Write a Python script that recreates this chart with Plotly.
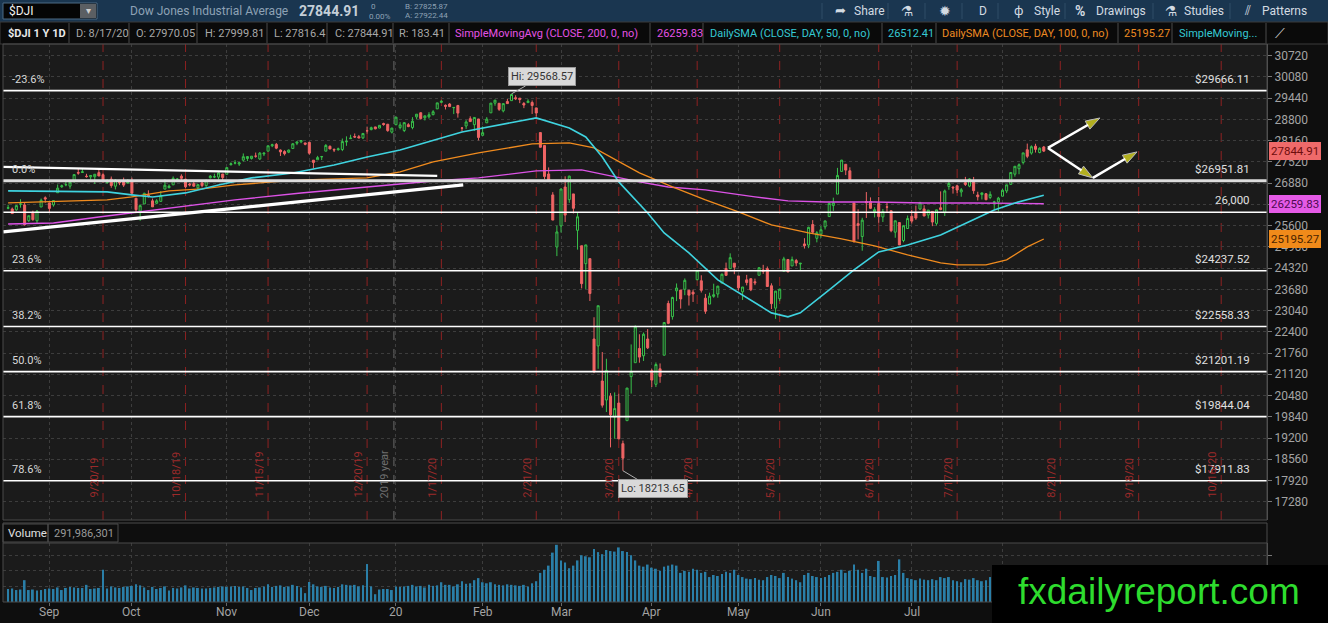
import pandas as pd
import plotly.graph_objects as go

W, H = 1328, 623

# ---- data ----
holidays = ["2019-09-02", "2019-11-28", "2019-12-25", "2020-01-01", "2020-01-20",
            "2020-02-17", "2020-04-10", "2020-05-25", "2020-07-03", "2020-09-07"]

opens = [
    26125, 26101, 26075, 26245, 26222, 25748, 26002, 25746, 26160, 26439,
    26284, 26225, 26590, 26770, 26828, 26790, 26959, 27197, 27200, 27090, 27070, 27071, 27196, 27134, 26893, 27000, 26787, 26962, 26920, 26877,
    26963, 26425, 26039, 26253, 26516, 26346, 26273, 26330, 26699, 26743, 26828, 26995, 27089, 26998, 26853, 26865, 26740, 26885, 26803, 27042, 27065, 27060, 27155,
    27147, 27435, 27482, 27456, 27572, 27621, 27621, 27693, 27606, 27759, 27843, 28005, 28047, 27877, 27830, 27812, 27922, 28082, 28124, 28091,
    28109, 27571, 27584, 27672, 27843, 27990, 27893, 27886, 27893, 28123, 28220, 28285, 28279, 28243, 28458, 28492, 28573, 28539, 28676, 28654, 28416,
    28639, 28553, 28465, 28639, 28556, 28877, 29000, 28847, 28878, 28943, 29118, 29313, 29226, 29264, 29153, 29217, 28542, 28601, 28820, 28640, 28813,
    28319, 28697, 28998, 29291, 29286, 29058, 29340, 29365, 29454, 29440, 29279, 29306, 29309, 29147, 28403, 28013, 27155, 26525, 24957,
    25591, 26763, 26384, 26555, 25458, 24992, 24453, 24604, 22184, 21974, 20917, 20345, 20460, 19830, 20253, 19029, 19722, 21050, 21469, 21898, 21678, 22184,
    21228, 20819, 21285, 21694, 23253, 22857, 23635, 23658, 23681, 23653, 23594, 23972, 23937, 23413, 23235, 23468, 23539, 23868, 24307, 24304, 24467,
    24084, 23605, 23965, 24000, 23909, 24104, 24261, 24303, 23787, 23113, 23397, 24224, 24579, 24384, 24546, 24444, 25048, 25015, 25632, 25217,
    25344, 25563, 25872, 26204, 26549, 27232, 27447, 27251, 26282, 25659, 25270, 26325, 26326, 26016, 26265, 25861, 26165, 26047, 25402, 25692, 25152, 25512,
    25880, 25976, 26099, 26103, 25920, 26027, 25667, 26136, 25992, 26780, 26758, 26799, 26614, 26894, 26790, 26926, 26523, 26535, 26561, 26448, 26294, 26314,
    26486, 26645, 26842, 27150, 27314, 27504, 27885, 27786, 27992, 27802, 27970.05,
]
highs = [
    26230, 26144, 26220, 26395, 26280, 25904, 26050, 26070, 26415, 26480,
    26284, 26369, 26838, 26835, 26919, 26909, 27137, 27307, 27306, 27161, 27115, 27150, 27306, 27172, 26997, 27079, 26999, 26963, 27047, 26999,
    27046, 26430, 26242, 26590, 26664, 26415, 26396, 26639, 27000, 26840, 27082, 27036, 27146, 27018, 26887, 26959, 26840, 26926, 26990, 27123, 27165, 27204, 27155,
    27359, 27503, 27573, 27517, 27774, 27681, 27691, 27801, 27815, 27807, 28005, 28067, 28090, 27893, 27871, 27892, 28082, 28126, 28175, 28099,
    28122, 27571, 27701, 27700, 28057, 28014, 27928, 27949, 28224, 28290, 28337, 28376, 28331, 28377, 28582, 28582, 28576, 28624, 28701, 28664, 28548,
    28873, 28716, 28708, 28686, 28866, 28960, 29010, 28908, 29017, 29079, 29298, 29374, 29250, 29289, 29174, 29238, 28565, 28777, 28893, 28859, 28814,
    28592, 28868, 29291, 29381, 29286, 29277, 29415, 29568.57, 29528, 29442, 29324, 29406, 29370, 29147, 28403, 28024, 27353, 26608, 25595,
    26706, 27085, 27102, 26555, 25985, 24992, 25020, 24604, 22838, 23186, 21789, 21588, 20553, 20574, 20532, 19122, 20705, 22020, 22595, 22327, 22378, 22480,
    21286, 21477, 21447, 22680, 23337, 23458, 23857, 23658, 24008, 23653, 23669, 24264, 24103, 23541, 23579, 23850, 23786, 24157, 24485, 24764, 24474,
    24084, 23751, 24116, 24006, 24003, 24343, 24418, 24368, 23860, 23628, 23698, 24660, 24589, 24667, 24596, 24466, 25221, 25565, 25765, 25433,
    25583, 25743, 26291, 26442, 27339, 27581, 27447, 27356, 26282, 26092, 25836, 26611, 26450, 26155, 26461, 26101, 26288, 26047, 25746, 25692, 25601, 25904,
    26073, 26204, 26319, 26213, 26070, 26032, 26080, 26631, 26685, 26964, 26787, 26832, 26731, 27068, 27025, 27066, 26620, 26595, 26576, 26631, 26346, 26466,
    26706, 26830, 27213, 27387, 27474, 27794, 28071, 28018, 28065, 27959, 27999.81,
]
lows = [
    26092, 25952, 26045, 26140, 25597, 25710, 25746, 25667, 26160, 26289,
    25978, 26172, 26590, 26737, 26785, 26710, 26893, 27133, 27193, 27045, 26986, 26853, 27090, 26892, 26863, 26740, 26690, 26820, 26765, 26877,
    26571, 25975, 25743, 26253, 26445, 26165, 26245, 26318, 26699, 26724, 26828, 26950, 26980, 26733, 26782, 26774, 26684, 26752, 26769, 27022, 27030, 26991, 26917,
    27147, 27411, 27444, 27397, 27530, 27545, 27590, 27644, 27583, 27696, 27843, 27964, 27902, 27697, 27714, 27783, 27922, 28024, 28083, 28020,
    27737, 27325, 27584, 27575, 27843, 27906, 27816, 27859, 27844, 28004, 28220, 28241, 28235, 28207, 28373, 28471, 28503, 28535, 28609, 28428, 28376,
    28627, 28500, 28418, 28565, 28502, 28800, 28795, 28768, 28824, 28922, 29112, 29289, 29100, 29171, 28960, 28853, 28440, 28513, 28734, 28454, 28169,
    28319, 28697, 28998, 29212, 29056, 29012, 29272, 29365, 29382, 29290, 29139, 29301, 28964, 28883, 27949, 27003, 26921, 25766, 24681,
    25391, 25707, 26286, 25966, 24876, 23707, 23690, 23328, 21154, 21285, 20116, 19983, 18917, 19177, 19174, 18213.65, 19722, 20539, 21469, 21469, 21522, 21881,
    20736, 20735, 20863, 21694, 22630, 22767, 23325, 23099, 23502, 23192, 23299, 23950, 23583, 22941, 23235, 23425, 23427, 23868, 24094, 24304, 24136,
    23647, 23360, 23799, 23625, 23806, 24104, 24145, 23764, 23087, 22790, 23323, 24224, 24192, 24384, 24377, 24260, 24908, 24920, 25347, 25095,
    25233, 25482, 25872, 26044, 26549, 27232, 27122, 26976, 25082, 25184, 24843, 25831, 26098, 25847, 25683, 25709, 25998, 25400, 25233, 25015, 25098, 25512,
    25661, 25771, 26075, 25883, 25815, 25583, 25599, 26062, 25890, 26680, 26564, 26580, 26470, 26796, 26757, 26558, 26356, 26387, 26368, 26398, 26086, 26024,
    26486, 26579, 26842, 27074, 27147, 27443, 27631, 27738, 27801, 27778, 27816.4,
]
closes = [
    26136, 25962, 26202, 26252, 25629, 25898, 25778, 26036, 26362, 26403,
    26118, 26355, 26728, 26797, 26835, 26909, 27137, 27182, 27220, 27076, 27111, 27147, 27095, 26935, 26950, 26808, 26971, 26891, 26820, 26917,
    26573, 26079, 26201, 26573, 26478, 26165, 26347, 26497, 26817, 26787, 27024, 27001, 27026, 26770, 26827, 26788, 26834, 26806, 26958, 27091, 27071, 27186, 27046,
    27347, 27462, 27492, 27493, 27675, 27681, 27691, 27691, 27784, 27782, 28005, 28036, 27934, 27821, 27766, 27876, 28066, 28121, 28164, 28051,
    27783, 27503, 27650, 27678, 28015, 27909, 27881, 27911, 28132, 28135, 28235, 28268, 28239, 28377, 28455, 28551, 28515, 28621, 28645, 28462, 28538,
    28869, 28634, 28703, 28584, 28745, 28957, 28824, 28908, 28940, 29030, 29298, 29348, 29196, 29186, 29160, 28990, 28536, 28723, 28734, 28859, 28256,
    28400, 28807, 29291, 29380, 29103, 29276, 29276, 29551, 29423, 29398, 29232, 29348, 29219, 28992, 27961, 27081, 26957, 25766, 25409,
    26703, 25917, 27091, 26121, 25865, 23851, 25018, 23553, 21200, 23186, 20189, 21237, 19899, 20087, 19174, 18592, 20705, 21201, 22552, 21637, 22327, 21917,
    20944, 21413, 21053, 22680, 22654, 23434, 23719, 23390, 23950, 23504, 23538, 24242, 23650, 23019, 23475, 23516, 23775, 24134, 24101, 24634, 24346,
    23724, 23750, 23883, 23665, 23876, 24331, 24222, 23765, 23248, 23625, 23685, 24597, 24207, 24576, 24474, 24465, 24995, 25548, 25401, 25383,
    25475, 25742, 26270, 26282, 27111, 27572, 27272, 26990, 25128, 25606, 25763, 26290, 26120, 26080, 25871, 26025, 26156, 25446, 25746, 25016, 25596, 25813,
    25735, 25827, 26287, 25890, 26067, 25707, 26075, 26086, 26643, 26870, 26735, 26672, 26681, 26840, 27006, 26653, 26470, 26585, 26379, 26540, 26314, 26428,
    26664, 26828, 27201, 27387, 27433, 27791, 27687, 27977, 27897, 27931, 27844.91,
]
# volume in millions
volumes = [
    250, 260, 230, 240, 420, 230, 240, 220, 230, 250,
    260, 250, 280, 230, 270, 290, 280, 270, 270, 330, 250, 260, 270, 620, 260, 300, 280, 270, 290, 300,
    310, 340, 320, 280, 230, 290, 250, 270, 300, 220, 270, 260, 280, 320, 260, 280, 270, 260, 260, 270, 280, 290, 300,
    290, 300, 310, 290, 300, 270, 230, 270, 280, 300, 340, 290, 310, 320, 290, 300, 330, 310, 280, 170,
    385, 340, 300, 290, 310, 280, 270, 290, 340, 330, 320, 330, 300, 320, 730, 300, 150, 240, 250, 250, 230,
    300, 290, 300, 310, 330, 300, 310, 280, 330, 310, 320, 380, 330, 330, 300, 340, 400, 350, 360, 420, 460,
    380, 360, 380, 340, 330, 320, 340, 330, 320, 310, 330, 300, 360, 400, 560, 620, 700, 950, 1100,
    800, 760, 650, 700, 800, 900, 880, 860, 1020, 960, 920, 1000, 980, 970, 1050, 980, 960, 900, 800, 700, 680, 720,
    660, 640, 600, 680, 700, 720, 700, 560, 600, 580, 640, 620, 560, 580, 480, 520, 500, 540, 580, 560, 620,
    520, 480, 450, 440, 460, 430, 420, 480, 520, 500, 460, 560, 480, 450, 420, 380, 520, 560, 500, 480,
    460, 480, 520, 560, 580, 620, 560, 600, 720, 620, 560, 640, 500, 480, 790, 480, 470, 500, 520, 820, 560, 460,
    440, 420, 450, 430, 420, 440, 420, 480, 460, 480, 420, 400, 380, 440, 430, 460, 420, 400, 420, 480, 440, 520,
    500, 480, 460, 440, 420, 480, 520, 440, 400, 380, 292,
]

# moving averages (trading-day offset, value)
sma50_days = [0, 24, 30, 35, 43, 51, 59, 69, 79, 87, 95, 103, 110, 128, 136, 140, 144, 148, 155, 159, 165, 172,
              177, 185, 189, 192, 199, 205, 211, 218, 226, 234, 239, 244, 251]
sma50_vals = [26645, 26615, 26525, 26464, 26585, 26826, 27037, 27187, 27428, 27669, 27880, 28181, 28422, 28844,
              28543, 28271, 27669, 26916, 25982, 25380, 24777, 23964, 23572, 22970, 22850, 22970, 23663, 24265,
              24807, 25018, 25319, 25771, 26072, 26283, 26512.41]
sma100_days = [0, 24, 30, 39, 47, 55, 64, 72, 87, 95, 103, 114, 127, 136, 142, 148, 153, 161, 169, 177, 185, 194,
               202, 210, 218, 226, 230, 237, 242, 247, 251]
sma100_vals = [26283, 26374, 26464, 26645, 26705, 26826, 26916, 26976, 27037, 27217, 27518, 27789, 28060, 28090,
               27940, 27518, 27187, 26765, 26374, 26012, 25620, 25380, 25199, 24988, 24717, 24476, 24416, 24416,
               24566, 24958, 25195.27]
sma200_days = [0, 11, 22, 39, 55, 71, 87, 103, 114, 128, 139, 148, 153, 160, 169, 181, 189, 198, 210, 222, 234, 251]
sma200_vals = [25650, 25680, 25861, 26132, 26374, 26584, 26765, 26946, 27037, 27248, 27278, 27037, 26916, 26765,
               26675, 26464, 26344, 26313, 26313, 26283, 26283, 26259.83]

fib_labels = ["-23.6%", "0.0%", "23.6%", "38.2%", "50.0%", "61.8%", "78.6%"]
fib_prices = [29666.11, 26951.81, 24237.52, 22558.33, 21201.19, 19844.04, 17911.83]

expiry_dates = ["2019-09-20", "2019-10-18", "2019-11-15", "2019-12-20", "2020-01-17", "2020-02-21", "2020-03-20",
                "2020-04-17", "2020-05-15", "2020-06-19", "2020-07-17", "2020-08-21", "2020-09-18", "2020-10-16"]
expiry_labels = ["9/20/19", "10/18/19", "11/15/19", "12/20/19", "1/17/20", "2/21/20", "3/20/20",
                 "4/17/20", "5/15/20", "6/19/20", "7/17/20", "8/21/20", "9/18/20", "10/16/20"]
month_labels = ["Sep", "Oct", "Nov", "Dec", "20", "Feb", "Mar", "Apr", "May", "Jun", "Jul", "Aug"]

# trendlines and arrows drawn on the chart (trading-day offset, price)
upper_tl = ([-1.2, 104], [27367, 27096])
lower_tl = ([-1.2, 110.3], [25409, 26825])
arrows = [([252.0, 264.6], [27940, 28843]),
          ([252.0, 262.9], [27940, 27036]),
          ([262.9, 273.6], [27036, 27820])]

header_items = [(6, "<b>$DJI 1 Y 1D</b>", "#e8e8e8"), (74, "D: 8/17/20", "#a8a8a8"),
                (134, "O: 27970.05", "#a8a8a8"), (203, "H: 27999.81", "#a8a8a8"),
                (272, "L: 27816.4", "#a8a8a8"), (333, "C: 27844.91", "#a8a8a8"),
                (397, "R: 183.41", "#a8a8a8"),
                (453, "SimpleMovingAvg (CLOSE, 200, 0, no)", "#e552e5"), (655, "26259.83", "#e552e5"),
                (708, "DailySMA (CLOSE, DAY, 50, 0, no)", "#35c9d4"), (886, "26512.41", "#35c9d4"),
                (940, "DailySMA (CLOSE, DAY, 100, 0, no)", "#ee8a22"), (1122, "25195.27", "#ee8a22"),
                (1177, "SimpleMoving...", "#35c9d4")]
header_dividers = [69, 129, 197, 267, 327, 393, 449, 650, 703, 882, 936, 1118, 1172, 1266]
toolbar_items = [(833, "➦", 13), (852, "Share", 12), (899, "⚗", 14), (937, "✹", 14), (977, "D", 12),
                 (1012, "ф", 13), (1032, "Style", 12), (1073, "<b>%</b>", 14), (1094, "Drawings", 12),
                 (1163, "⚗", 14), (1182, "Studies", 12), (1242, "⫽", 13), (1260, "Patterns", 12)]
toolbar_dividers = [822, 888, 925, 962, 998, 1065, 1153, 1230]

# ---- positions ----
days = [d for d in pd.bdate_range("2019-08-19", "2020-10-30") if d.strftime("%Y-%m-%d") not in holidays]
pos = {d.strftime("%Y-%m-%d"): i for i, d in enumerate(days)}
xi = list(range(len(closes)))
month_ticks = [i for i in range(1, len(closes)) if days[i].month != days[i - 1].month]

FONT = "Roboto, Open Sans, DejaVu Sans, sans-serif"


def fx(p):
    return p / W


def fy(p):
    return 1 - p / H


XR = [-1.24, 305.1]
PRICE_TOP, PRICE_BOT = 44, 520
VOL_TOP, VOL_BOT = 543, 602

fig = go.Figure()
fig.add_trace(go.Candlestick(
    x=xi, open=opens, high=highs, low=lows, close=closes,
    increasing=dict(line=dict(color="#38c24b", width=1), fillcolor="#1b1b1b"),
    decreasing=dict(line=dict(color="#ef6464", width=1), fillcolor="#ef6464"),
    whiskerwidth=0, hoverinfo="skip", xaxis="x", yaxis="y"))
fig.add_trace(go.Scatter(x=sma200_days, y=sma200_vals, mode="lines", line=dict(color="#dc52e6", width=1.4),
                         hoverinfo="skip", xaxis="x", yaxis="y"))
fig.add_trace(go.Scatter(x=sma100_days, y=sma100_vals, mode="lines", line=dict(color="#f08b1e", width=1.3),
                         hoverinfo="skip", xaxis="x", yaxis="y"))
fig.add_trace(go.Scatter(x=sma50_days, y=sma50_vals, mode="lines", line=dict(color="#3fd3df", width=1.6),
                         hoverinfo="skip", xaxis="x", yaxis="y"))
fig.add_trace(go.Scatter(x=upper_tl[0], y=upper_tl[1], mode="lines", line=dict(color="white", width=2.2),
                         hoverinfo="skip", xaxis="x", yaxis="y"))
fig.add_trace(go.Scatter(x=lower_tl[0], y=lower_tl[1], mode="lines", line=dict(color="white", width=3.2),
                         hoverinfo="skip", xaxis="x", yaxis="y"))
for ax_, ay_ in arrows:
    fig.add_trace(go.Scatter(
        x=ax_, y=ay_, mode="lines+markers", line=dict(color="white", width=2.5),
        marker=dict(symbol=["circle", "arrow"], size=[0, 15], angleref="previous",
                    color="#f3ee22", line=dict(color="white", width=1)),
        hoverinfo="skip", xaxis="x", yaxis="y"))
fig.add_trace(go.Bar(x=xi, y=volumes, marker=dict(color="#2a7fa8", line_width=0), width=0.45,
                     hoverinfo="skip", xaxis="x2", yaxis="y2"))

shapes = []
ann = []

# toolbar
shapes.append(dict(type="rect", xref="paper", yref="paper", x0=0, x1=1, y0=fy(22), y1=1,
                   fillcolor="#1a3650", line_width=0, layer="below"))
shapes.append(dict(type="rect", xref="paper", yref="paper", x0=fx(3), x1=fx(97), y0=fy(19), y1=fy(3),
                   fillcolor="#050505", line=dict(color="#4d6a84", width=1), layer="below"))
shapes.append(dict(type="rect", xref="paper", yref="paper", x0=fx(80), x1=fx(96), y0=fy(18), y1=fy(4),
                   fillcolor="#5b5f63", line_width=0, layer="below"))
for d in toolbar_dividers:
    shapes.append(dict(type="line", xref="paper", yref="paper", x0=fx(d), x1=fx(d), y0=fy(19), y1=fy(3),
                       line=dict(color="#2f4d66", width=1), layer="below"))
ann.append(dict(x=fx(7), y=fy(11), text="$DJI", font=dict(color="#f0f0f0", size=12)))
ann.append(dict(x=fx(84), y=fy(11), text="▾", font=dict(color="#d0d0d0", size=10)))
ann.append(dict(x=fx(128), y=fy(11), text="Dow Jones Industrial Average", font=dict(color="#8ea2b5", size=12)))
ann.append(dict(x=fx(297), y=fy(11), text="<b>27844.91</b>", font=dict(color="#c5cfd8", size=14)))
ann.append(dict(x=fx(369), y=fy(6), text="0", font=dict(color="#8ea2b5", size=8)))
ann.append(dict(x=fx(367), y=fy(16), text="0.00%", font=dict(color="#8ea2b5", size=8)))
ann.append(dict(x=fx(403), y=fy(6), text="B: 27825.87", font=dict(color="#8ea2b5", size=8)))
ann.append(dict(x=fx(403), y=fy(15), text="A: 27922.44", font=dict(color="#8ea2b5", size=8)))
for xp, t, s in toolbar_items:
    ann.append(dict(x=fx(xp), y=fy(11), text=t, font=dict(color="#d3dbe2", size=s)))

# study header row
shapes.append(dict(type="rect", xref="paper", yref="paper", x0=0, x1=1, y0=fy(44), y1=fy(22),
                   fillcolor="#0a0a0a", line=dict(color="#3a3a3a", width=1), layer="below"))
for d in header_dividers:
    shapes.append(dict(type="line", xref="paper", yref="paper", x0=fx(d), x1=fx(d), y0=fy(43), y1=fy(23),
                       line=dict(color="#4a4a4a", width=1), layer="below"))
for xp, t, c in header_items:
    ann.append(dict(x=fx(xp), y=fy(33), text=t, font=dict(color=c, size=11)))
ann.append(dict(x=fx(1273), y=fy(33), text="⟋", font=dict(color="#d0d0d0", size=14)))

# fibonacci levels
for lab, p in zip(fib_labels, fib_prices):
    w = 3 if lab == "0.0%" else 1.6
    col = "#dcdcdc" if lab == "0.0%" else "white"
    shapes.append(dict(type="line", xref="x domain", yref="y", x0=0, x1=1, y0=p, y1=p,
                       line=dict(color=col, width=w), layer="above"))
    ann.append(dict(x=fx(10), xref="paper", y=p, yref="y", yanchor="bottom", yshift=3,
                    text=lab, font=dict(color="#d8d8d8", size=11)))
    ann.append(dict(x=fx(1252), xref="paper", xanchor="right", y=p, yref="y", yanchor="bottom", yshift=3,
                    text="$%.2f" % p, font=dict(color="#e0e0e0", size=11.5)))
shapes.append(dict(type="line", xref="x domain", yref="y", x0=0, x1=1, y0=26000, y1=26000,
                   line=dict(color="white", width=1.6), layer="above"))
ann.append(dict(x=fx(1252), xref="paper", xanchor="right", y=26000, yref="y", yanchor="bottom", yshift=3,
                text="26,000", font=dict(color="#e0e0e0", size=11.5)))

# option expiration markers
for dt, lab in zip(expiry_dates, expiry_labels):
    i = pos[dt]
    shapes.append(dict(type="line", xref="x", yref="y domain", x0=i, x1=i, y0=0, y1=1,
                       line=dict(color="#8e2222", width=1, dash="dash"), layer="below"))
    ann.append(dict(x=i, xref="x", xanchor="right", xshift=-1, y=fy(500), yanchor="bottom",
                    text=lab, textangle=-90, font=dict(color="#9c2a2a", size=11)))
year_x = pos["2019-12-31"] + 0.5
shapes.append(dict(type="line", xref="x", yref="y domain", x0=year_x, x1=year_x, y0=0, y1=1,
                   line=dict(color="#6a6a6a", width=1, dash="dash"), layer="below"))
ann.append(dict(x=year_x, xref="x", xanchor="right", xshift=-1, y=fy(500), yanchor="bottom",
                text="2019 year", textangle=-90, font=dict(color="#707070", size=11)))

# high / low callouts
ann.append(dict(x=pos["2020-02-12"], xref="x", y=29568.57, yref="y", text="Hi: 29568.57", showarrow=True,
                arrowhead=0, arrowcolor="#b0b0b0", arrowwidth=1, ax=30, ay=-17, xanchor="center", yanchor="middle",
                bgcolor="#d9d9d9", bordercolor="#9a9a9a", borderpad=2, font=dict(color="#333333", size=11)))
ann.append(dict(x=pos["2020-03-23"], xref="x", y=18213.65, yref="y", text="Lo: 18213.65", showarrow=True,
                arrowhead=0, arrowcolor="#b0b0b0", arrowwidth=1, ax=30, ay=18, xanchor="center", yanchor="middle",
                bgcolor="#d9d9d9", bordercolor="#9a9a9a", borderpad=2, font=dict(color="#333333", size=11)))

# last value tags on the price scale
for val, bg, fg in [(27844.91, "#ef6a6a", "#6e0d0d"), (26259.83, "#e45ae6", "#4d0a50"), (25195.27, "#f08a1a", "#4a2400")]:
    ann.append(dict(x=fx(1269), xref="paper", y=val, yref="y", text="%.2f" % val, bgcolor=bg,
                    bordercolor=bg, borderpad=1, font=dict(color=fg, size=11.5)))

# month labels under the volume panel (Aug sits under the watermark)
for t, lab in zip(month_ticks, month_labels):
    if lab != "Aug":
        ann.append(dict(x=t, xref="x2", xanchor="center", y=fy(612), text=lab,
                        font=dict(color="#a3a3a3", size=12)))

# panel frames
shapes.append(dict(type="rect", xref="paper", yref="paper", x0=fx(3), x1=fx(1267), y0=fy(PRICE_BOT),
                   y1=fy(PRICE_TOP), line=dict(color="#4a4a4a", width=1), layer="above"))
shapes.append(dict(type="rect", xref="paper", yref="paper", x0=fx(3), x1=fx(1267), y0=fy(VOL_BOT),
                   y1=fy(523), line=dict(color="#4a4a4a", width=1), layer="above"))
shapes.append(dict(type="line", xref="paper", yref="paper", x0=fx(3), x1=fx(1267), y0=fy(VOL_TOP),
                   y1=fy(VOL_TOP), line=dict(color="#4a4a4a", width=1), layer="above"))
shapes.append(dict(type="rect", xref="paper", yref="paper", x0=fx(3), x1=fx(48), y0=fy(542), y1=fy(524),
                   line=dict(color="#4a4a4a", width=1), layer="above"))
shapes.append(dict(type="rect", xref="paper", yref="paper", x0=fx(48), x1=fx(118), y0=fy(542), y1=fy(524),
                   line=dict(color="#4a4a4a", width=1), layer="above"))
ann.append(dict(x=fx(6), y=fy(533), text="Volume", font=dict(color="#e0e0e0", size=11.5)))
ann.append(dict(x=fx(52), y=fy(533), text="291,986,301", font=dict(color="#9a9a9a", size=11)))

# watermark
shapes.append(dict(type="rect", xref="paper", yref="paper", x0=fx(992), x1=1, y0=0, y1=fy(565),
                   fillcolor="#000000", line_width=0, layer="above"))
ann.append(dict(x=fx(1159), xanchor="center", y=fy(591), text="fxdailyreport.com",
                font=dict(color="#2edc2e", size=37, family="Liberation Sans, Arial, sans-serif")))

for a in ann:
    a.setdefault("xref", "paper")
    a.setdefault("yref", "paper")
    a.setdefault("showarrow", False)
    a.setdefault("xanchor", "left")
    a.setdefault("yanchor", "middle")

grid = dict(showgrid=True, gridcolor="#3d3d3d", griddash="dot", gridwidth=1, zeroline=False)
fig.update_layout(
    width=W, height=H, autosize=False,
    margin=dict(l=0, r=0, t=0, b=0),
    paper_bgcolor="#0e0e0e", plot_bgcolor="#1b1b1b",
    showlegend=False, hovermode=False,
    font=dict(family=FONT, color="#a0a0a0", size=12),
    xaxis=dict(domain=[fx(3), fx(1267)], range=XR, anchor="y", tickvals=month_ticks, showticklabels=False,
               rangeslider=dict(visible=False), ticks="", **grid),
    yaxis=dict(domain=[fy(PRICE_BOT), fy(PRICE_TOP)], range=[16729, 31072], anchor="x", side="right",
               tickvals=list(range(17280, 30721, 640)), tickformat="d", ticks="outside", ticklen=4,
               tickcolor="#777777", tickfont=dict(color="#a3a3a3", size=12), showline=True,
               linecolor="#555555", **grid),
    xaxis2=dict(domain=[fx(3), fx(1267)], range=XR, anchor="y2", tickvals=month_ticks, showticklabels=False,
                ticks="outside", ticklen=3, tickcolor="#666666", **grid),
    yaxis2=dict(domain=[fy(VOL_BOT), fy(VOL_TOP)], range=[0, 1135], anchor="x2", side="right",
                tickvals=[300, 600, 900], showticklabels=False, ticks="outside", ticklen=4, tickcolor="#777777",
                showline=True, linecolor="#555555", **grid),
    shapes=shapes, annotations=ann,
)

# page has a default body margin; remove it so the figure fills the window
fig.write_html("out.html", config={"displayModeBar": False},
               post_script="document.body.style.margin='0';document.body.style.background='#0e0e0e';")
